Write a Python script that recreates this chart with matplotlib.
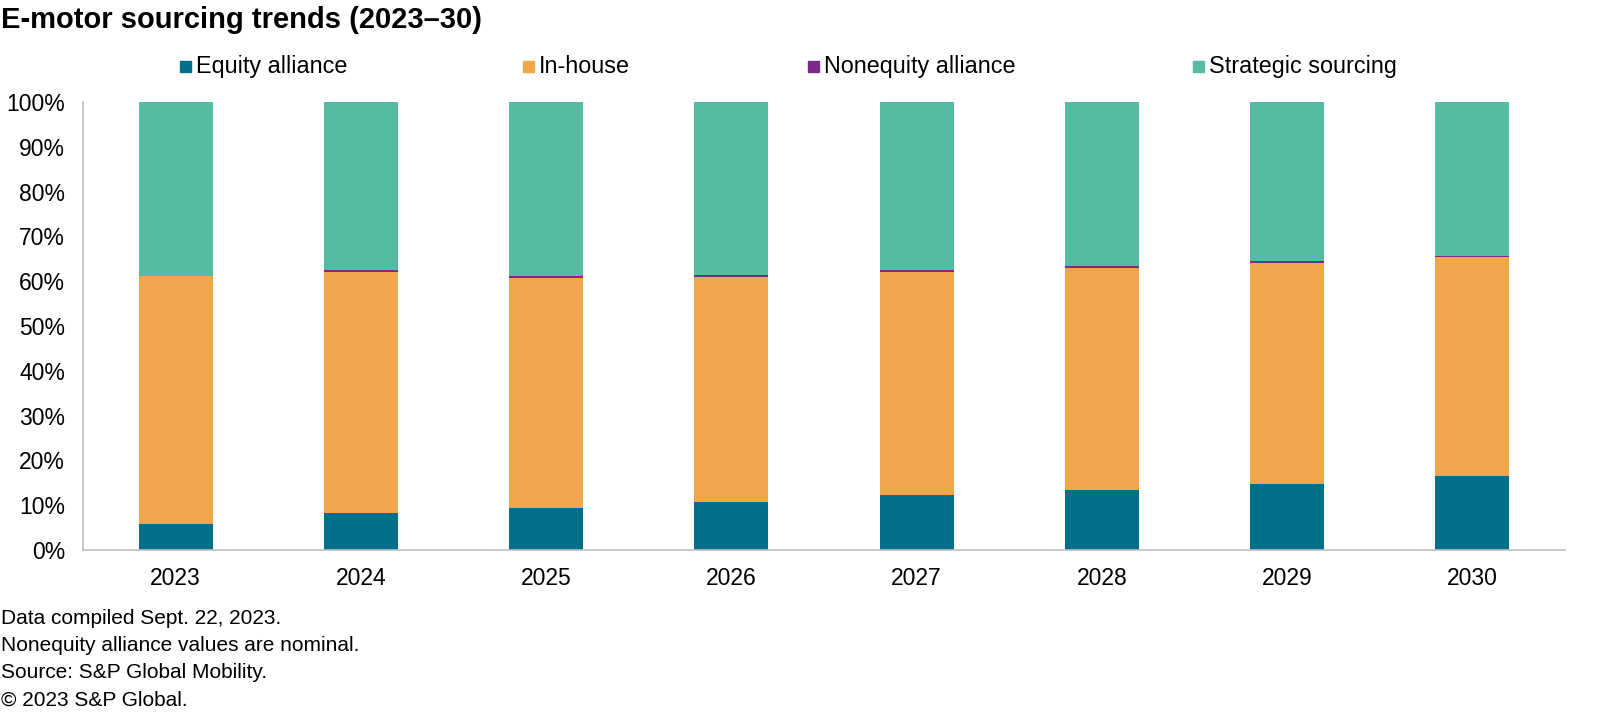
"""
E-motor sourcing trends, stacked 100% bars
"""
import matplotlib.pyplot as plt
from matplotlib.patches import Rectangle
from matplotlib.ticker import PercentFormatter

plt.rcParams['font.family'] = ['Liberation Sans', 'DejaVu Sans']

years = ['2023', '2024', '2025', '2026', '2027', '2028', '2029', '2030']
equity_alliance = [5.8, 8.3, 9.3, 10.8, 12.3, 13.5, 14.8, 16.5]
in_house = [55.4, 53.8, 51.4, 50.2, 49.8, 49.5, 49.2, 48.8]
nonequity_alliance = [0.0, 0.4, 0.5, 0.4, 0.5, 0.5, 0.5, 0.4]
strategic_sourcing = [100 - a - b - c for a, b, c in
                      zip(equity_alliance, in_house, nonequity_alliance)]

series = [
    ('Equity alliance', equity_alliance, '#00708A'),
    ('In-house', in_house, '#F0A64B'),
    ('Nonequity alliance', nonequity_alliance, '#7B2A8C'),
    ('Strategic sourcing', strategic_sourcing, '#55BBA3'),
]

fig = plt.figure(figsize=(16, 7.25), dpi=100)
ax = fig.add_axes([83 / 1600, 1 - 550 / 725, (1565 - 83) / 1600, (550 - 102) / 725])

x = range(len(years))
bottom = [0.0] * len(years)
for name, vals, color in series:
    ax.bar(x, vals, bottom=bottom, width=0.4, color=color, label=name)
    bottom = [b + v for b, v in zip(bottom, vals)]

ax.set_xlim(-0.5, len(years) - 0.5)
ax.set_ylim(0, 100)
ax.set_yticks(range(0, 101, 10))
ax.yaxis.set_major_formatter(PercentFormatter(decimals=0))
ax.set_xticks(list(x))
ax.set_xticklabels(years)
ax.tick_params(axis='both', length=0, labelsize=16.5, colors='#000000')
ax.tick_params(axis='y', pad=13)
ax.tick_params(axis='x', pad=12)
for side in ['top', 'right']:
    ax.spines[side].set_visible(False)
for side in ['left', 'bottom']:
    ax.spines[side].set_color('#BFBFBF')
    ax.spines[side].set_linewidth(1.2)

# title
fig.text(1 / 1600, 1 - 20 / 725, 'E-motor sourcing trends (2023\u201330)',
         fontsize=21, fontweight='bold', va='center', ha='left')

# legend, placed like the original
legend_x = [180, 523, 808, 1193]
for (name, vals, color), lx in zip(series, legend_x):
    fig.patches.append(Rectangle((lx / 1600, 1 - 72 / 725), 11 / 1600, 11 / 725,
                                 transform=fig.transFigure, color=color))
    fig.text((lx + 16) / 1600, 1 - 73 / 725, name, fontsize=16.8,
             va='baseline', ha='left')

# footnotes
notes = ['Data compiled Sept. 22, 2023.',
         'Nonequity alliance values are nominal.',
         'Source: S&P Global Mobility.',
         '\u00a9 2023 S&P Global.']
for i, note in enumerate(notes):
    fig.text(1 / 1600, 1 - (618 + 27.5 * i) / 725, note, fontsize=15,
             va='center', ha='left')

plt.savefig('out.png', dpi=100)
plt.close()
